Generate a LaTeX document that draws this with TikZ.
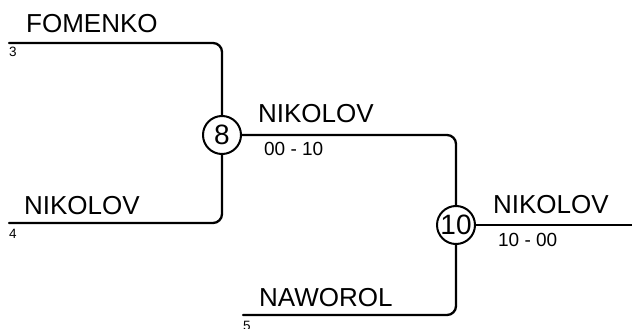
\documentclass[tikz,border=0pt]{standalone}
\usepackage{fontspec}
\setmainfont{Liberation Sans}
\begin{document}
\begin{tikzpicture}[x=1pt, y=-1pt, line join=round, line cap=round, line width=2.3pt,
	circ/.style={draw, circle, line width=2pt, minimum size=38pt, inner sep=0pt, font=\fontsize{28}{30}\selectfont},
	big/.style={anchor=base west, inner sep=0pt, font=\fontsize{26}{28}\selectfont},
	mid/.style={anchor=base west, inner sep=0pt, font=\fontsize{19}{21}\selectfont},
	sml/.style={anchor=base west, inner sep=0pt, font=\fontsize{13.5}{15}\selectfont}]%Bracket
	\useasboundingbox (0,0) rectangle (632,329);
	\path (9,43)coordinate(A) (9,223)coordinate(B) (243,315)coordinate(D) (632,225)coordinate(E);
	\node[circ] (R8) at (222,135) {8};
	\node[circ] (R10) at (456,225) {10};
	\draw[rounded corners=9pt] (A) -| (R8.north) (B) -| (R8.south) (R8.east) -| (R10.north) (D) -| (R10.south);
	\draw (R10.east)--(E);
	\foreach \n/\x/\y/\t in {fo/25/33/FOMENKO, ni/23/214/NIKOLOV, nk/257/122/NIKOLOV, na/258/306/NAWOROL, nw/492/213/NIKOLOV}
	\node[big] (\n) at (\x,\y) {\t};
	\foreach \n/\x/\y/\t in {s8/263/155/00 - 10, s10/497/246/10 - 00}
	\node[mid] (\n) at (\x,\y) {\t};
	\foreach \n/\x/\y/\t in {c3/8/57/3, c4/8/238/4, c5/242/330/5}
	\node[sml] (\n) at (\x,\y) {\t};
\end{tikzpicture}
\end{document}
